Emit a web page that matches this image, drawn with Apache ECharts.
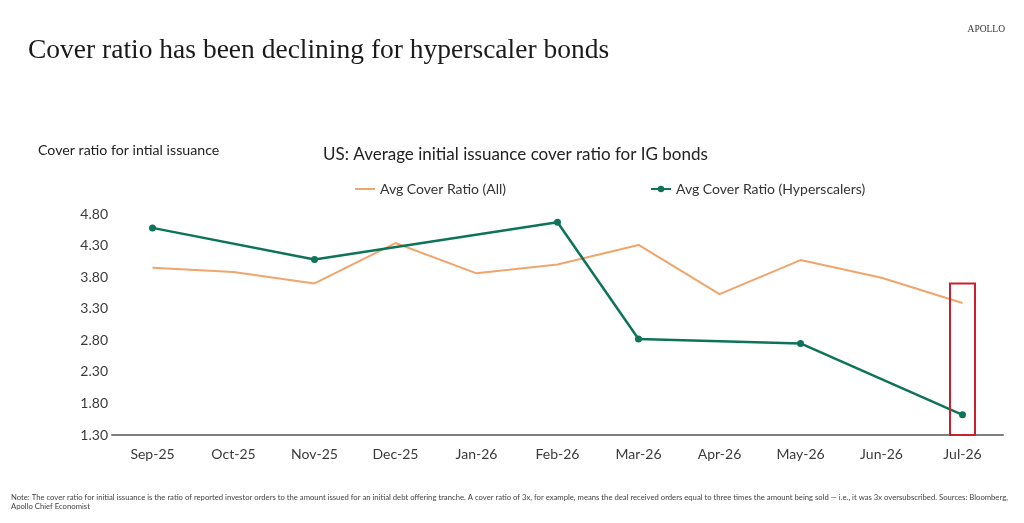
<!DOCTYPE html>
<html>
<head>
<meta charset="utf-8">
<script src="https://cdn.jsdelivr.net/npm/echarts@6/dist/echarts.min.js"></script>
<style>
html,body{margin:0;padding:0;background:#fff;}
#chart{width:1024px;height:523px;}
</style>
</head>
<body>
<div id="chart"></div>
<script>
const categories = ['Sep-25','Oct-25','Nov-25','Dec-25','Jan-26','Feb-26','Mar-26','Apr-26','May-26','Jun-26','Jul-26'];
const avgAll = [3.95, 3.88, 3.70, 4.34, 3.86, 4.00, 4.31, 3.53, 4.07, 3.79, 3.39];
const avgHyperscalers = [4.58, null, 4.08, null, null, 4.67, 2.82, null, 2.75, null, 1.62];
const yTicks = [1.30, 1.80, 2.30, 2.80, 3.30, 3.80, 4.30, 4.80];
const highlightBox = [['Jul-26', 1.30, 3.70]];

const FONT = 'Lato, "Noto Sans", sans-serif';
const ORANGE = '#EFA56C';
const GREEN = '#0E7358';
const chart = echarts.init(document.getElementById('chart'), null, {renderer: 'canvas'});
chart.setOption({
  backgroundColor: '#ffffff',
  animation: false,
  title: [
    {text: 'Cover ratio has been declining for hyperscaler bonds', left: 23, top: 32,
     textStyle: {fontFamily: '"Liberation Serif", serif', fontWeight: 'normal', fontSize: 27.5, color: '#1a1a1a'}},
    {text: 'APOLLO', right: 14, top: 19,
     textStyle: {fontFamily: '"Liberation Serif", serif', fontWeight: 'normal', fontSize: 9.5, color: '#333', letterSpacing: 1.6}},
    {text: 'Cover ratio for intial issuance', left: 33, top: 138,
     textStyle: {fontFamily: FONT, fontWeight: 'normal', fontSize: 14.2, color: '#222'}},
    {text: 'US: Average initial issuance cover ratio for IG bonds', left: 318, top: 141,
     textStyle: {fontFamily: FONT, fontWeight: 'normal', fontSize: 17, color: '#222'}},
    {text: 'Note: The cover ratio for initial issuance is the ratio of reported investor orders to the amount issued for an initial debt offering tranche. A cover ratio of 3x, for example, means the deal received orders equal to three times the amount being sold \u2014 i.e., it was 3x oversubscribed. Sources: Bloomberg,\nApollo Chief Economist',
     left: 6, top: 488,
     textStyle: {fontFamily: FONT, fontWeight: 'normal', fontSize: 7.7, lineHeight: 9, color: '#444'}}
  ],
  legend: [
    {data: [{name: 'Avg Cover Ratio (All)', icon: 'rect'}], left: 350, top: 177, itemWidth: 20, itemHeight: 2,
     textStyle: {fontFamily: FONT, fontSize: 14, color: '#333'}},
    {data: ['Avg Cover Ratio (Hyperscalers)'], left: 645, top: 177, itemWidth: 20, itemHeight: 8,
     textStyle: {fontFamily: FONT, fontSize: 14, color: '#333'}}
  ],
  grid: {left: 112, right: 21, top: 214, bottom: 88, containLabel: false},
  xAxis: {
    type: 'category', data: categories, boundaryGap: true,
    axisLine: {lineStyle: {color: '#7f7f7f', width: 2}},
    axisTick: {show: false},
    axisLabel: {fontFamily: FONT, fontSize: 14, color: '#3a3a3a', margin: 12}
  },
  yAxis: {
    type: 'value', min: 1.3, max: 4.8,
    axisLine: {show: false}, axisTick: {show: false}, splitLine: {show: false},
    axisLabel: {customValues: yTicks, fontFamily: FONT, fontSize: 14, color: '#3a3a3a', margin: 4,
      formatter: v => Number(v).toFixed(2)}
  },
  series: [
    {name: 'Avg Cover Ratio (All)', type: 'line', data: avgAll, symbol: 'none',
     lineStyle: {color: ORANGE, width: 2}, itemStyle: {color: ORANGE}},
    {name: 'Avg Cover Ratio (Hyperscalers)', type: 'line', data: avgHyperscalers, connectNulls: true,
     symbol: 'circle', symbolSize: 7,
     lineStyle: {color: GREEN, width: 2.5}, itemStyle: {color: GREEN}},
    {name: 'box', type: 'custom', data: highlightBox, silent: true, z: 5,
     encode: {x: 0, y: [1, 2]},
     renderItem: function (params, api) {
       const bottom = api.coord([api.value(0), api.value(1)]);
       const top = api.coord([api.value(0), api.value(2)]);
       const w = 25;
       return {type: 'rect',
         shape: {x: top[0] - w / 2, y: top[1], width: w, height: bottom[1] - top[1]},
         style: {fill: 'none', stroke: '#C8202F', lineWidth: 2}};
     }}
  ]
});
</script>
</body>
</html>
